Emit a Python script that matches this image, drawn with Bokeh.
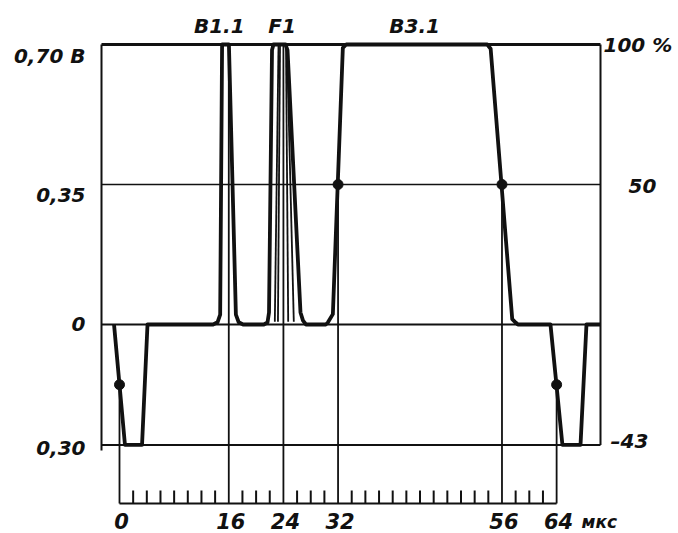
from bokeh.plotting import figure
from bokeh.models import Range1d
from bokeh.core.properties import value
from bokeh.embed import file_html
from bokeh.resources import INLINE

# ---------------- data (time in µs, level in % of white level) ----------------
trace_t = [-0.8, 0.8, 3.3, 4.1,
           13.7, 14.35, 14.74, 15.02, 16.02, 17.04, 17.45, 18.1,
           21.13, 21.67, 21.89, 22.33, 22.55, 24.3, 24.6, 26.5, 26.87, 27.31,
           30.2, 30.5, 31.24, 32.7, 33.2,
           53.84, 54.34, 57.5, 58.0, 58.33,
           63.1, 64.85, 67.5, 68.37, 70.42]
trace_v = [0, -43, -43, 0,
           0, 0.8, 3.5, 100, 100, 3.5, 0.8, 0,
           0, 0.7, 4.3, 98, 100, 100, 98, 4.3, 1.4, 0,
           0, 0.7, 3.7, 98.8, 100,
           100, 98.5, 1.9, 0.7, 0,
           0, -43, -43, 0, 0]

# inner lines of the F1 pulse group
f1_t = [[23.28, 22.74], [23.5, 23.2], [24.38, 24.7], [24.52, 25.52]]
f1_v = [[99.5, 1.0], [99.5, 1.0], [99.5, 1.0], [99.5, 1.0]]

# time markers (tick labels) and where their vertical lines start
marker_t = [0, 16, 24, 32, 56, 64]
marker_labels = ["0", "16", "24", "32", "56", "64"]
marker_top = [-21.5, 100, 100, 50, 50, -21.5]
minor_t = [2, 4, 6, 8, 10, 12, 14, 18, 20, 22, 26, 28, 30, 34, 36, 38, 40,
           42, 44, 46, 48, 50, 52, 54, 58, 60, 62]

# 50 % points
dot_t = [0, 32, 56, 64]
dot_v = [-21.5, 50, 50, -21.5]

# reference levels
levels = [100, 50, 0, -43]
left_labels = ["0,70 В", "0,35", "0", "0,30"]
right_labels = ["100 %", "50", "–43"]
right_levels = [100, 50, -43]

# signal names
sig_labels = ["B1.1", "F1", "B3.1"]
sig_t = [14.6, 23.8, 43.2]
unit_label = "мкс"

# ---------------- layout ----------------
W, H, OFF = 678, 533, 0
X0PX, XK = 119.0, 6.83   # picture px of t = 0, px per µs
Y0PX, YK = 324.0, 2.80   # picture px of 0 %, px per %


def t_of(px):
    return (px - X0PX) / XK


def v_of(py):
    return (Y0PX - py) / YK


BOX_T0, BOX_T1 = t_of(101), t_of(600)
AXIS_V = v_of(503)
TICK_V = 13 / YK
INK = "#111111"
FONT = value("DejaVu Sans")

p = figure(width=W, height=H,
           x_range=Range1d(t_of(OFF), t_of(OFF + W)),
           y_range=Range1d(v_of(OFF + H), v_of(OFF)),
           x_axis_location=None, y_axis_location=None,
           toolbar_location=None, output_backend="svg",
           min_border=0, outline_line_color=None,
           background_fill_color="white", border_fill_color="white")
p.grid.visible = False

# frame and level lines
lw = {100: 2.8, 50: 1.6, 0: 2.0, -43: 2.0}
for lv in levels:
    p.line([BOX_T0, BOX_T1], [lv, lv], line_color=INK, line_width=lw[lv])
p.line([BOX_T0, BOX_T0], [-45, 100], line_color=INK, line_width=2)
p.line([BOX_T1, BOX_T1], [-43, 100], line_color=INK, line_width=2)

# time axis
p.line([marker_t[0], marker_t[-1]], [AXIS_V, AXIS_V], line_color=INK, line_width=2)
p.segment(x0=minor_t, y0=[AXIS_V] * len(minor_t), x1=minor_t,
          y1=[AXIS_V + TICK_V] * len(minor_t), line_color=INK, line_width=2)
p.segment(x0=marker_t, y0=[AXIS_V] * len(marker_t), x1=marker_t, y1=marker_top,
          line_color=INK, line_width=1.8)

# waveform
p.multi_line(xs=f1_t, ys=f1_v, line_color=INK, line_width=1.8)
p.line(trace_t, trace_v, line_color=INK, line_width=3.8, line_join="round")
p.scatter(dot_t, dot_v, size=10, marker="circle", fill_color=INK, line_color=INK)

# texts
TXT = dict(text_font=FONT, text_font_style="bold italic", text_color=INK)
left_dy = [11, 10, -1, 3]
for lv, lab, dy in zip(levels, left_labels, left_dy):
    p.text(x=[t_of(85)], y=[lv], text=[lab], y_offset=dy, text_align="right",
           text_baseline="middle", text_font_size="20px", **TXT)
right_px = [603, 628, 610]
right_dy = [0, 1, -4]
for lv, lab, px, dy in zip(right_levels, right_labels, right_px, right_dy):
    p.text(x=[t_of(px)], y=[lv], text=[lab], y_offset=dy, text_align="left",
           text_baseline="middle", text_font_size="20px", **TXT)
p.text(x=sig_t, y=[v_of(25)] * 3, text=sig_labels, text_align="center",
       text_baseline="middle", text_font_size="20px", **TXT)
p.text(x=marker_t, y=[v_of(520)] * len(marker_t), text=marker_labels,
       x_offset=2, text_align="center", text_baseline="middle",
       text_font_size="21px", **TXT)
p.text(x=[t_of(581)], y=[v_of(521)], text=[unit_label], text_align="left",
       text_baseline="middle", text_font_size="17px", **TXT)

open("out.html", "w").write(file_html(p, INLINE))
